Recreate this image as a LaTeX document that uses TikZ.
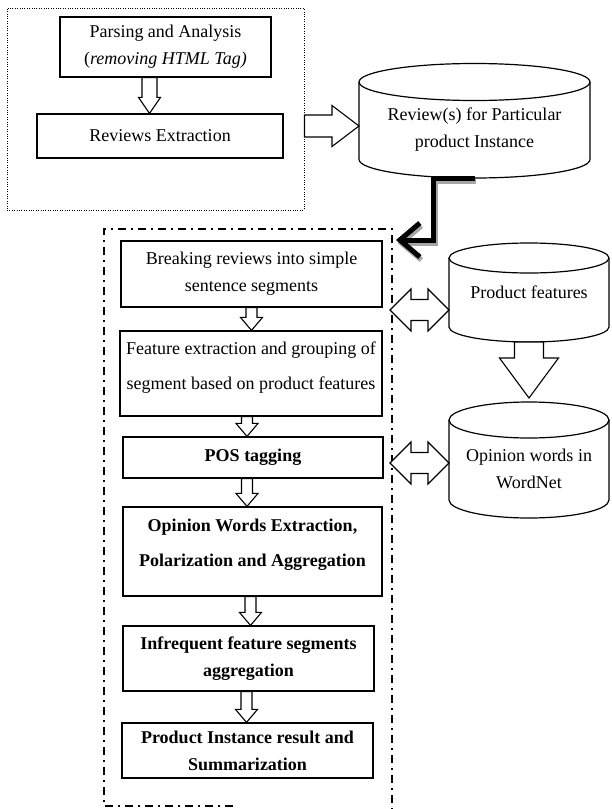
\documentclass[tikz,border=0pt]{standalone}
\usepackage{fontspec}
\setmainfont{Liberation Serif}
\usetikzlibrary{arrows.meta, positioning, calc}
\tikzset{
  pbox/.style={draw, line width=1.2pt, align=center, inner sep=2pt,
    font=\fontsize{18}{27}\selectfont},
  bbox/.style={pbox, font=\fontsize{18}{27}\selectfont\bfseries},
  dbnode/.style={align=center, inner sep=0pt, outer sep=0pt,
    font=\fontsize{18}{27}\selectfont},
  srcframe/.style={draw, line width=0.9pt, dash pattern=on 1pt off 1.4pt, inner sep=0pt},
  stageframe/.style={line width=1.8pt, dash pattern=on 8pt off 5pt on 2pt off 5pt},
  harrow/.style n args={3}{draw, fill=white, line width=1.1pt, line join=miter,
    to path={let \p1=(\tikztostart), \p2=(\tikztotarget), \p3=($(\p2)!#3!(\p1)$) in
      ($(\p1)!#1!90:(\p2)$) -- ($(\p3)!#1!-90:(\p1)$) -- ($(\p3)!#2!-90:(\p1)$) -- (\p2)
      -- ($(\p3)!#2!90:(\p1)$) -- ($(\p3)!#1!90:(\p1)$) -- ($(\p1)!#1!-90:(\p2)$) -- cycle}},
  darrow/.style n args={3}{draw, fill=white, line width=1.1pt, line join=miter,
    to path={let \p1=(\tikztostart), \p2=(\tikztotarget), \p3=($(\p2)!#3!(\p1)$),
      \p4=($(\p1)!#3!(\p2)$) in
      (\p1) -- ($(\p4)!#2!90:(\p2)$) -- ($(\p4)!#1!90:(\p2)$) -- ($(\p3)!#1!-90:(\p1)$)
      -- ($(\p3)!#2!-90:(\p1)$) -- (\p2) -- ($(\p3)!#2!90:(\p1)$) -- ($(\p3)!#1!90:(\p1)$)
      -- ($(\p4)!#1!-90:(\p2)$) -- ($(\p4)!#2!-90:(\p2)$) -- cycle}},
  fatline/.style={line width=5pt, -{Straight Barb[length=20pt, width=34pt]}},
}
\begin{document}
\begin{tikzpicture}[x=1pt, y=-1pt]
  \useasboundingbox (0,0) rectangle (611,809);
  % source stage
  \node[srcframe, minimum width=297pt, minimum height=202pt] (src) at (155.5,109) {};
  \node[pbox, minimum width=211pt, minimum height=60pt] (parse) at (165.5,47)
    {Parsing and Analysis\\(\textit{removing HTML Tag)}};
  \node[pbox, minimum width=246pt, minimum height=44pt] (extr) at (160,136) {Reviews Extraction};
  % databases
  \node[dbnode, minimum width=231pt, minimum height=96pt] (revdb) at (474.5,130)
    {Review(s) for Particular\\product Instance};
  \node[dbnode, minimum width=160pt, minimum height=84pt, text depth=16pt] (featdb) at (529,300)
    {Product features};
  \node[dbnode, minimum width=160pt, minimum height=98pt] (worddb) at (529,469)
    {Opinion words in\\WordNet};
  \foreach \c/\rx/\ry in {revdb/115.5/18.5, featdb/80/15, worddb/80/18}{
    \draw[line width=1.2pt] (\c.north west) -- ([yshift=\ry pt]\c.south west)
      arc[start angle=180, end angle=360, x radius=\rx pt, y radius=\ry pt] -- (\c.north east);
    \draw[line width=1.2pt] (\c.north) ellipse [x radius=\rx pt, y radius=\ry pt];
  }
  % processing stage
  \coordinate (fNW) at (104,229);
  \coordinate (fNE) at (392,229);
  \draw[stageframe] (233,806) -- (104,806) -- (fNW) -- (fNE) -- (392,809);
  \node[pbox, minimum width=261pt, minimum height=66pt] (brk) at (251.5,274)
    {Breaking reviews into simple\\sentence segments};
  \node[pbox, minimum width=262pt, minimum height=85pt, text depth=16pt] (feat) at (251,373.5)
    {Feature extraction and grouping of\\[8pt]segment based on product features};
  \node[bbox, minimum width=260pt, minimum height=41pt] (pos) at (253,457.5) {POS tagging};
  \node[bbox, minimum width=259pt, minimum height=89pt, text depth=18pt] (opin) at (252.5,551.5)
    {Opinion Words Extraction,\\[8pt]Polarization and Aggregation};
  \node[bbox, minimum width=251pt, minimum height=65pt] (infr) at (248.5,658.5)
    {Infrequent feature segments\\aggregation};
  \node[bbox, minimum width=251pt, minimum height=55pt] (prod) at (247.5,750.5)
    {Product Instance result and\\Summarization};
  % connectors
  \draw[harrow={7.5pt}{11pt}{16pt}] ($(parse.south)+(-16,0)$) to ($(parse.south |- extr.north)+(-16,0)$);
  \coordinate (a1) at ([yshift=-17pt]src.east);
  \draw[harrow={11pt}{20.5pt}{27pt}] (a1) to (a1 -| revdb.west);
  \foreach \a/\b/\dx in {brk/feat/0, feat/pos/-4, pos/opin/-6, opin/infr/-2, infr/prod/-2}
    \draw[harrow={5.5pt}{11pt}{13pt}] ($(\a.south)+(\dx,0)$) to ($(\a.south |- \b.north)+(\dx,0)$);
  \draw[harrow={14.5pt}{29.5pt}{40pt}] (featdb.south) to ([yshift=22pt]worddb.north);
  \coordinate (fr1) at (390,310);
  \coordinate (fr2) at (390,463);
  \draw[darrow={10.5pt}{21pt}{21pt}] (fr1) to (fr1 -| featdb.west);
  \draw[darrow={10.5pt}{21pt}{21pt}] (fr2) to (fr2 -| worddb.west);
  % fat elbow into the stage
  \coordinate (tipin) at (396,240);
  \draw[fatline, draw=black!35, transform canvas={shift={(1.5pt,-3pt)}}]
    (revdb.south) -- ++(-41,0) |- (tipin);
  \draw[fatline] (revdb.south) -- ++(-41,0) |- (tipin);
\end{tikzpicture}
\end{document}
